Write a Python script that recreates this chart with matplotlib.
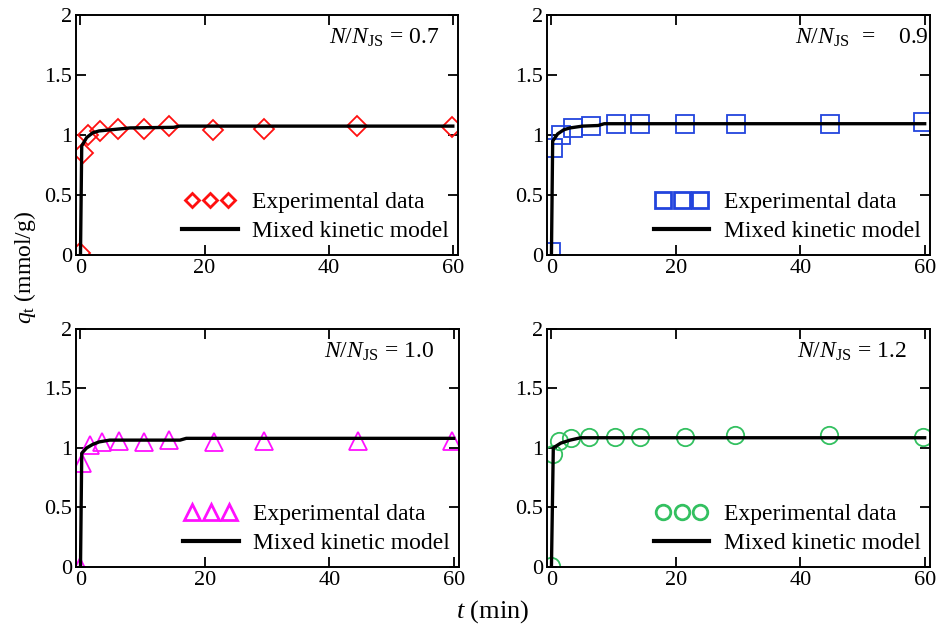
import matplotlib
matplotlib.use("Agg")
import matplotlib.pyplot as plt
from matplotlib.legend_handler import HandlerLine2D

plt.rcParams['font.family'] = ['Liberation Serif', 'DejaVu Serif']
plt.rcParams['mathtext.fontset'] = 'custom'
plt.rcParams['mathtext.rm'] = 'Liberation Serif'
plt.rcParams['mathtext.it'] = 'Liberation Serif:italic'

# ---- data ----
t_exp_07 = [0, 0.4, 1.2, 3.2, 6.0, 10.2, 14.2, 21.4, 29.5, 44.6, 59.8]
q_exp_07 = [0.02, 0.85, 1.005, 1.035, 1.055, 1.055, 1.075, 1.04, 1.055, 1.075, 1.07]
t_mod_07 = [0, 0.2, 1, 2, 3, 5, 8, 15, 16, 60]
q_mod_07 = [0, 0.91, 0.98, 1.02, 1.035, 1.045, 1.06, 1.065, 1.075, 1.075]

t_exp_09 = [0, 0.3, 1.5, 3.4, 6.3, 10.3, 14.3, 21.5, 29.6, 44.7, 59.8]
q_exp_09 = [0.03, 0.89, 1.0, 1.06, 1.075, 1.09, 1.09, 1.09, 1.09, 1.09, 1.11]
t_mod_09 = [0, 0.2, 1, 2, 3, 5, 7.5, 8.5, 60]
q_mod_09 = [0, 0.95, 1.01, 1.045, 1.06, 1.075, 1.08, 1.095, 1.095]

t_exp_10 = [0, 0.3, 1.6, 3.5, 6.2, 10.2, 14.2, 21.4, 29.5, 44.6, 59.8]
q_exp_10 = [0.0, 0.87, 1.02, 1.05, 1.06, 1.05, 1.07, 1.05, 1.06, 1.06, 1.055]
t_mod_10 = [0, 0.2, 1, 2, 3, 4.7, 16, 17, 60]
q_mod_10 = [0, 0.955, 1.0, 1.03, 1.05, 1.065, 1.065, 1.08, 1.08]

t_exp_12 = [0, 0.3, 1.2, 3.2, 6.1, 10.2, 14.2, 21.4, 29.5, 44.6, 59.8]
q_exp_12 = [0.01, 0.95, 1.06, 1.08, 1.09, 1.09, 1.09, 1.09, 1.11, 1.11, 1.09]
t_mod_12 = [0, 0.3, 1.5, 3, 4.7, 60]
q_mod_12 = [0, 1.0, 1.04, 1.065, 1.085, 1.085]

labels_ratio = ["0.7", "0.9", "1.0", "1.2"]
x_ticks = [0, 20, 40, 60]
y_ticks = [0, 0.5, 1, 1.5, 2]
y_ticklabels = ["0", "0.5", "1", "1.5", "2"]

panels = [
    dict(t=t_exp_07, q=q_exp_07, tm=t_mod_07, qm=q_mod_07, marker='D', color='#FF1010', ms=10.5, lms=7.5,
         pos=[0.081, 0.593, 0.406, 0.383], txt=r"$N$/$N_{\rm JS}$ = " + labels_ratio[0], tx=0.953, ha='right'),
    dict(t=t_exp_09, q=q_exp_09, tm=t_mod_09, qm=q_mod_09, marker='s', color='#2244DD', ms=12.5, lms=11.0,
         pos=[0.582, 0.593, 0.407, 0.383], txt=r"$N$/$N_{\rm JS}$  =    " + labels_ratio[1], tx=0.648, ha='left'),
    dict(t=t_exp_10, q=q_exp_10, tm=t_mod_10, qm=q_mod_10, marker='^', color='#FF10FF', ms=13.5, lms=11.5,
         pos=[0.081, 0.0957, 0.407, 0.380], txt=r"$N$/$N_{\rm JS}$ = " + labels_ratio[2], tx=0.937, ha='right'),
    dict(t=t_exp_12, q=q_exp_12, tm=t_mod_12, qm=q_mod_12, marker='o', color='#33C060', ms=12.5, lms=10.5,
         pos=[0.582, 0.0957, 0.407, 0.380], txt=r"$N$/$N_{\rm JS}$ = " + labels_ratio[3], tx=0.94, ha='right'),
]

fig = plt.figure(figsize=(9.4, 6.27), dpi=100)
for p in panels:
    ax = fig.add_axes(p['pos'])
    exp_line, = ax.plot(p['t'], p['q'], linestyle='none', marker=p['marker'], ms=p['ms'],
                        mfc='none', mec=p['color'], mew=1.3, label='Experimental data')
    mod_line, = ax.plot(p['tm'], p['qm'], color='black', lw=2.4, label='Mixed kinetic model')
    ax.set_xlim(-0.7, 60.8)
    ax.set_ylim(0, 2)
    ax.set_xticks(x_ticks)
    ax.set_yticks(y_ticks)
    ax.set_yticklabels(y_ticklabels)
    ax.tick_params(direction='in', length=7, width=1.3, top=True, right=True,
                   labelsize=16, pad=3)
    for s in ax.spines.values():
        s.set_linewidth(1.4)
    ax.text(p['tx'], 0.905, p['txt'], transform=ax.transAxes, ha=p['ha'], va='center',
            fontsize=17, clip_on=False)
    leg = ax.legend(handles=[exp_line, mod_line], loc='lower right', frameon=False, fontsize=17,
                    handlelength=2.35, handletextpad=0.6, labelspacing=0.32,
                    borderaxespad=0.15, bbox_to_anchor=(1.01, 0.0),
                    handler_map={exp_line: HandlerLine2D(numpoints=3, marker_pad=0.4),
                                 mod_line: HandlerLine2D(numpoints=1)})
    for h in leg.legend_handles:
        if h.get_marker() not in (None, 'None', ''):
            h.set_markersize(p['lms'])
            h.set_markeredgewidth(2.0)
        else:
            h.set_linewidth(3.0)

fig.text(0.027, 0.573, r"$q_{\rm t}$ (mmol/g)", rotation=90, ha='center', va='center', fontsize=17)
fig.text(0.524, 0.024, r"$t$ (min)", ha='center', va='center', fontsize=19)

fig.savefig("out.png", dpi=100)
